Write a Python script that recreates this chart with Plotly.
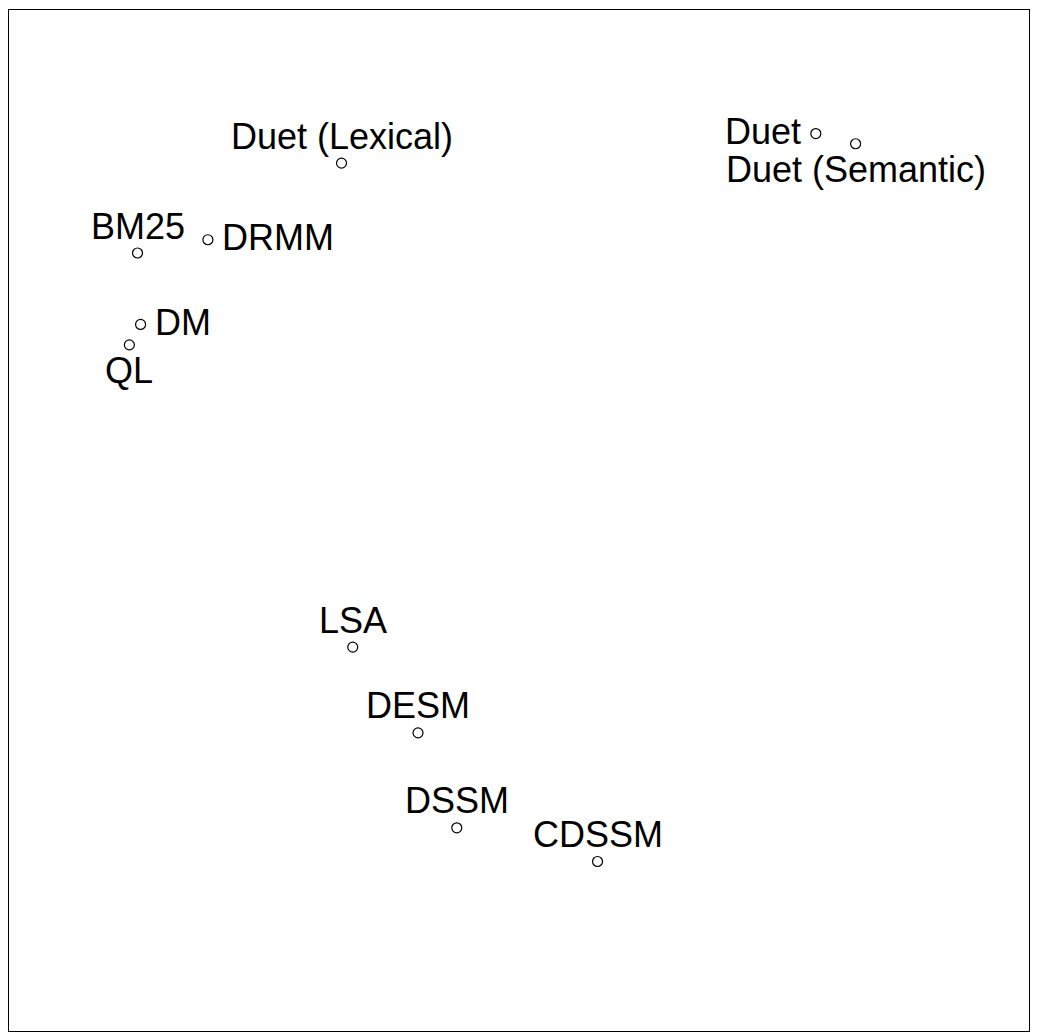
import plotly.graph_objects as go

# Data (arbitrary 2-D embedding coordinates)
labels = ["Duet (Lexical)", "Duet", "Duet (Semantic)", "BM25", "DRMM", "DM", "QL",
          "LSA", "DESM", "DSSM", "CDSSM"]
x_vals = [0.326, 0.791, 0.830, 0.126, 0.195, 0.129, 0.118, 0.337, 0.401, 0.439, 0.577]
y_vals = [0.850, 0.879, 0.869, 0.762, 0.775, 0.692, 0.672, 0.376, 0.292, 0.199, 0.166]

# label placement (R-style: 1 below, 2 left, 3 above, 4 right)
label_pos = {"Duet (Lexical)": 3, "Duet": 2, "Duet (Semantic)": 1, "BM25": 3, "DRMM": 4,
             "DM": 4, "QL": 1, "LSA": 3, "DESM": 3, "DSSM": 3, "CDSSM": 3}

FONT = dict(family="Liberation Sans, Arial, Helvetica, sans-serif", size=36, color="black")

fig = go.Figure()
fig.add_trace(go.Scatter(
    x=x_vals, y=y_vals, mode="markers",
    marker=dict(symbol="circle-open", size=10, color="black", line=dict(width=1.2, color="black")),
    hoverinfo="text", text=labels, showlegend=False,
))

for lab, xv, yv in zip(labels, x_vals, y_vals):
    p = label_pos[lab]
    kw = dict(x=xv, y=yv, xref="x", yref="y", text=lab, showarrow=False, font=FONT)
    if p == 3:
        kw.update(xanchor="center", yanchor="middle", yshift=27)
    elif p == 1:
        kw.update(xanchor="center", yanchor="middle", yshift=-26)
    elif p == 2:
        kw.update(xanchor="right", yanchor="middle", xshift=-13, yshift=2)
    else:
        kw.update(xanchor="left", yanchor="middle", xshift=12, yshift=2)
    fig.add_annotation(**kw)

axis_common = dict(showgrid=False, zeroline=False, showticklabels=False, ticks="",
                   showline=True, linecolor="black", linewidth=1, mirror=True,
                   range=[0, 1], fixedrange=True)
fig.update_xaxes(**axis_common)
fig.update_yaxes(**axis_common)

fig.update_layout(
    width=1037, height=1036,
    margin=dict(l=9, r=8, t=10, b=5),
    paper_bgcolor="white", plot_bgcolor="white",
    font=FONT,
)

fig.write_html(
    "out.html",
    config={"displayModeBar": False},
    post_script="document.body.style.margin='0';document.documentElement.style.overflow='hidden';",
)
